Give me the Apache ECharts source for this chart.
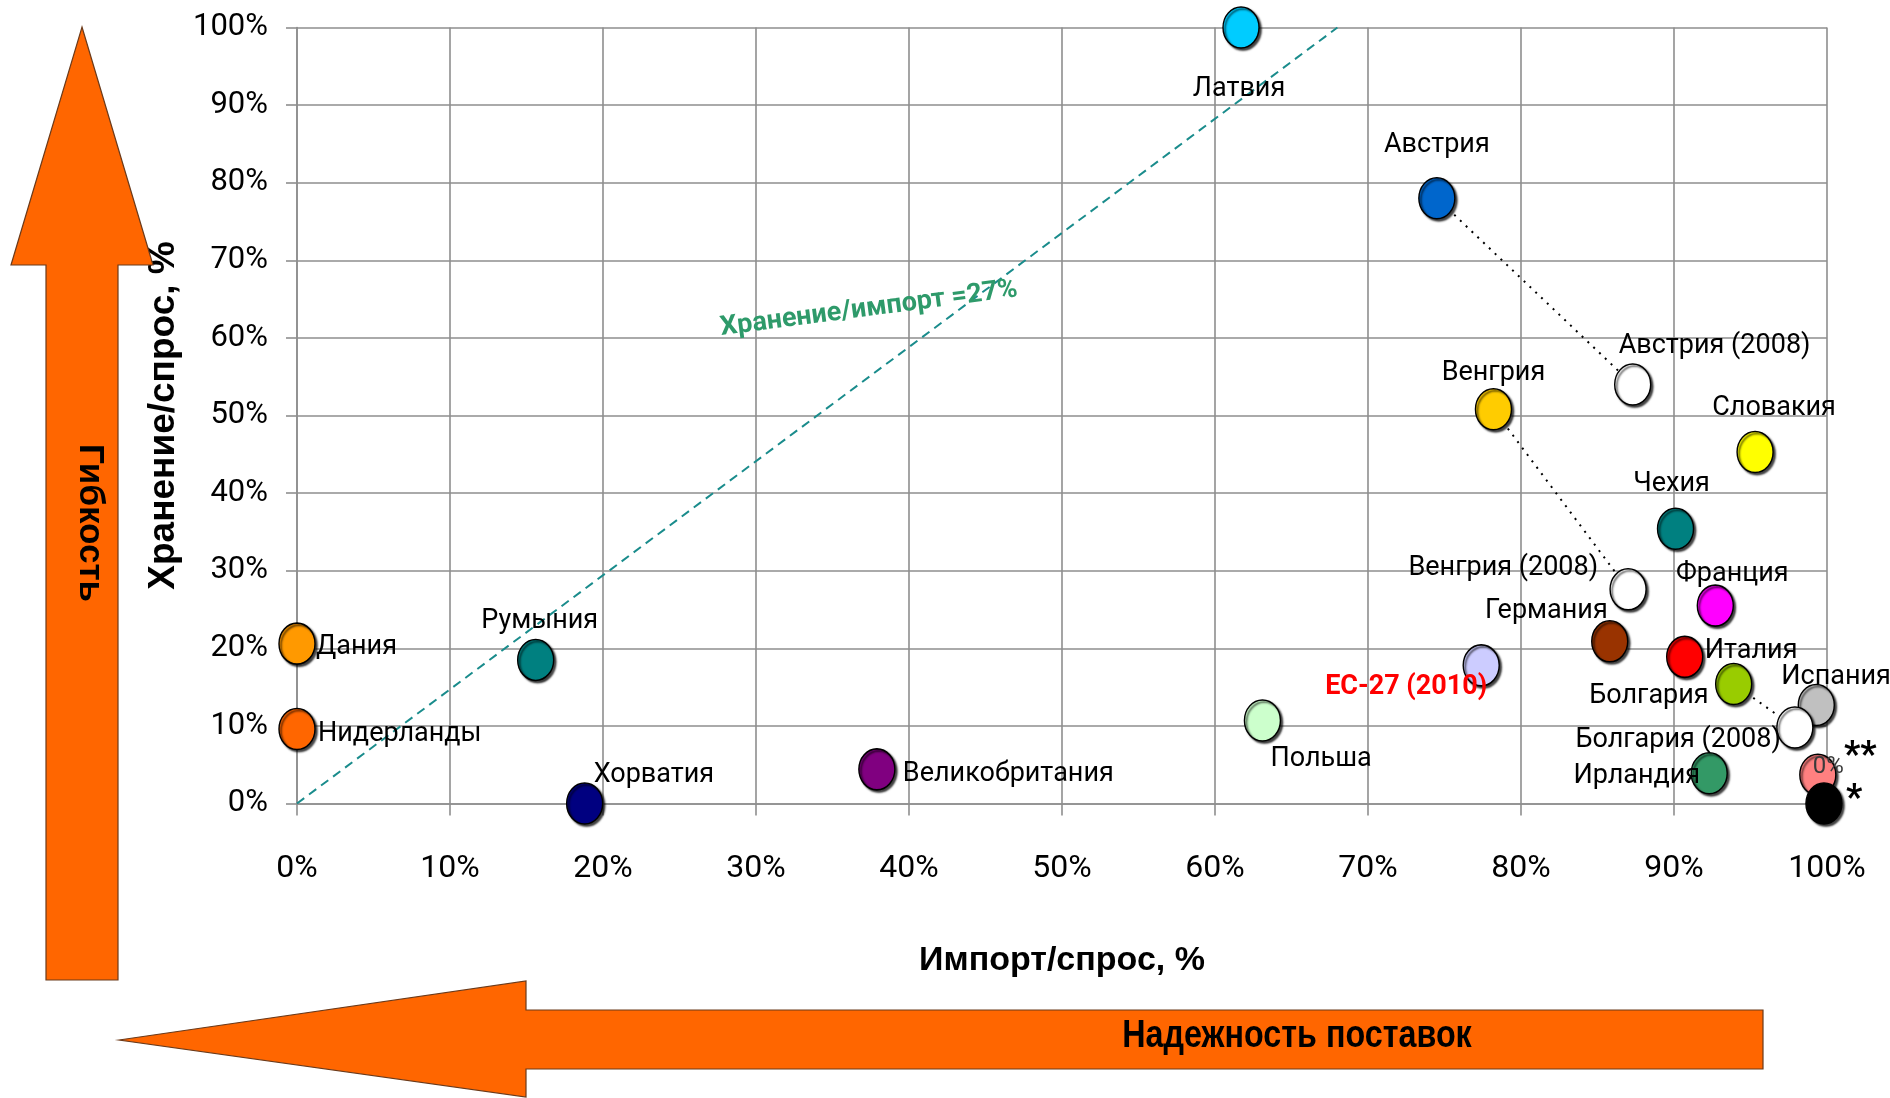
<!DOCTYPE html>
<html>
<head>
<meta charset="utf-8">
<title>Хранение/спрос vs Импорт/спрос</title>
<script src="https://cdn.jsdelivr.net/npm/echarts@6/dist/echarts.min.js"></script>
<style>
  html, body { margin: 0; padding: 0; background: #ffffff; }
  #chart { width: 1890px; height: 1098px; }
</style>
</head>
<body>
<div id="chart"></div>
<script>
  // данные: импорт/спрос (ось X) и хранение/спрос (ось Y), в %
  const countries = ['Латвия', 'Австрия', 'Австрия (2008)', 'Венгрия', 'Словакия', 'Чехия',
    'Венгрия (2008)', 'Франция', 'Германия', 'Италия', 'ЕС-27 (2010)', 'Болгария', 'Испания',
    'Болгария (2008)', 'Польша', 'Ирландия', '**', '*', 'Дания', 'Нидерланды', 'Румыния',
    'Хорватия', 'Великобритания'];
  const importShare = [61.7, 74.5, 87.3, 78.2, 95.3, 90.1, 87.0, 92.7, 85.8, 90.7, 77.4, 93.9, 99.3,
    97.9, 63.1, 92.3, 99.4, 99.8, 0, 0, 15.6, 18.8, 37.9];
  const storageShare = [100, 78.0, 54.0, 50.8, 45.3, 35.4, 27.6, 25.5, 20.9, 18.9, 17.8, 15.4, 12.7,
    9.8, 10.7, 3.9, 3.7, 0, 20.6, 9.6, 18.5, 0, 4.4];
  const xTicks = [0, 10, 20, 30, 40, 50, 60, 70, 80, 90, 100];
  const yTicks = [0, 10, 20, 30, 40, 50, 60, 70, 80, 90, 100];
  // пары 2008 -> текущий год (пунктир)
  const changePairs = [['Австрия', 'Австрия (2008)'], ['Венгрия', 'Венгрия (2008)'], ['Болгария', 'Болгария (2008)']];
  // линия хранение/импорт
  const ratioLine = [[0, 0], [68, 100]];

  const pointColors = ['#00ccff', '#0066cc', '#ffffff', '#ffcc00', '#ffff00', '#008080',
    '#ffffff', '#ff00ff', '#993300', '#ff0000', '#ccccff', '#99cc00', '#c0c0c0',
    '#ffffff', '#ccffcc', '#339966', '#ff8080', '#000000', '#ff9900', '#ff6600', '#008080',
    '#000080', '#800080'];

  // смещения подписей [dx, dy, align]
  const labelLayout = {
    'Латвия': [-2, 62, 'center'],
    'Австрия': [0, -53, 'center'],
    'Австрия (2008)': [-14, -38, 'left'],
    'Венгрия': [0, -36, 'center'],
    'Словакия': [19, -44, 'center'],
    'Чехия': [-4, -45, 'center'],
    'Венгрия (2008)': [-30, -21, 'right'],
    'Франция': [17, -31, 'center'],
    'Германия': [-2, -30, 'right'],
    'Италия': [20, -6, 'left'],
    'ЕС-27 (2010)': [6, 22, 'right'],
    'Болгария': [-25, 12, 'right'],
    'Испания': [-35, -28, 'left'],
    'Болгария (2008)': [-14, 13, 'right'],
    'Польша': [8, 39, 'left'],
    'Ирландия': [-9, 3, 'right'],
    '**': [-5, -8, 'left'],
    '*': [22, -4, 'left'],
    'Дания': [19, 4, 'left'],
    'Нидерланды': [21, 5, 'left'],
    'Румыния': [4, -39, 'center'],
    'Хорватия': [9, -28, 'left'],
    'Великобритания': [26, 5, 'left']
  };

  const gridColor = '#8e8e8e';
  const labelFont = 'Roboto';

  const idx = name => countries.indexOf(name);

  const scatterData = countries.map((name, i) => {
    const [dx, dy, align] = labelLayout[name];
    const label = {
      show: true,
      position: 'inside',
      offset: [dx, dy],
      align: align,
      verticalAlign: 'middle',
      formatter: '{b}',
      color: '#000',
      fontFamily: labelFont,
      fontSize: 27
    };
    if (name === 'ЕС-27 (2010)') {
      label.color = '#ff0000';
      label.fontWeight = 'bold';
    }
    if (name === '**') {
      label.formatter = '{z|0%}{s|**}';
      label.rich = {
        z: { fontSize: 24, color: '#3a3a3a', fontFamily: labelFont, verticalAlign: 'middle' },
        s: { fontSize: 36, fontWeight: 'bold', color: '#000', fontFamily: labelFont, verticalAlign: 'middle', padding: [0, 0, 20, 0] }
      };
    }
    if (name === '*') {
      label.fontSize = 36;
      label.fontWeight = 'bold';
    }
    return {
      name: name,
      value: [importShare[i], storageShare[i]],
      itemStyle: { color: pointColors[i] },
      label: label
    };
  });

  const pairSeries = changePairs.map(pair => ({
    type: 'line',
    silent: true,
    symbol: 'none',
    z: 2,
    data: pair.map(n => [importShare[idx(n)], storageShare[idx(n)]]),
    lineStyle: { color: '#000', width: 2, type: [2, 6] }
  }));

  const chart = echarts.init(document.getElementById('chart'));

  const option = {
    backgroundColor: '#ffffff',
    animation: false,
    grid: { left: 297, right: 63, top: 27.5, bottom: 294.5 },
    xAxis: {
      type: 'value',
      min: xTicks[0],
      max: xTicks[xTicks.length - 1],
      interval: xTicks[1] - xTicks[0],
      name: 'Импорт/спрос, %',
      nameLocation: 'middle',
      nameGap: 140,
      nameTextStyle: { fontFamily: 'Liberation Sans', fontWeight: 'bold', fontSize: 34, color: '#000' },
      axisLine: { show: true, onZero: false, lineStyle: { color: gridColor, width: 1.6 } },
      axisTick: { show: true, length: 12, lineStyle: { color: gridColor, width: 1.6 } },
      splitLine: { show: true, lineStyle: { color: gridColor, width: 1.6 } },
      axisLabel: { margin: 49, fontFamily: labelFont, fontSize: 32, color: '#000', formatter: '{value}%' }
    },
    yAxis: {
      type: 'value',
      min: yTicks[0],
      max: yTicks[yTicks.length - 1],
      interval: yTicks[1] - yTicks[0],
      name: 'Хранение/спрос, %',
      nameLocation: 'middle',
      nameGap: 107,
      nameTextStyle: { fontFamily: 'Liberation Sans', fontWeight: 'bold', fontSize: 37, color: '#000' },
      axisLine: { show: true, onZero: false, lineStyle: { color: gridColor, width: 1.6 } },
      axisTick: { show: true, length: 11, lineStyle: { color: gridColor, width: 1.6 } },
      splitLine: { show: true, lineStyle: { color: gridColor, width: 1.6 } },
      axisLabel: { margin: 29, padding: [5, 0, 0, 0], fontFamily: labelFont, fontSize: 31, color: '#000', formatter: '{value}%' }
    },
    series: [
      {
        type: 'line',
        silent: true,
        symbol: 'none',
        z: 2,
        data: ratioLine,
        lineStyle: { color: '#1a8c8c', width: 2, type: [9, 6] }
      },
      ...pairSeries,
      {
        type: 'scatter',
        z: 5,
        clip: false,
        symbol: 'circle',
        symbolSize: [36, 41],
        itemStyle: {
          opacity: 1,
          borderColor: '#000',
          borderWidth: 1.5,
          shadowColor: 'rgba(0,0,0,0.75)',
          shadowBlur: 2,
          shadowOffsetX: 2,
          shadowOffsetY: 2
        },
        emphasis: { disabled: true },
        data: scatterData
      }
    ],
    graphic: [
      {
        type: 'polygon',
        z: 1,
        shape: { points: [[82, 27], [153, 265], [118, 265], [118, 980], [46, 980], [46, 265], [11, 265]] },
        style: { fill: '#ff6600', stroke: '#6b3a1a', lineWidth: 1.2 }
      },
      {
        type: 'text',
        z: 3,
        x: 90,
        y: 523,
        rotation: -Math.PI / 2,
        style: { text: 'Гибкость', fill: '#000', font: 'bold 35px "Liberation Sans"', align: 'center', verticalAlign: 'middle' }
      },
      {
        type: 'polygon',
        z: 1,
        shape: { points: [[119, 1040], [526, 981], [526, 1010], [1763, 1010], [1763, 1069], [526, 1069], [526, 1097]] },
        style: { fill: '#ff6600', stroke: '#6b3a1a', lineWidth: 1.2 }
      },
      {
        type: 'text',
        z: 3,
        x: 1297,
        y: 1037,
        scaleX: 0.85,
        style: { text: 'Надежность поставок', fill: '#000', font: 'bold 38px "Liberation Sans"', align: 'center', verticalAlign: 'middle' }
      },
      {
        type: 'text',
        z: 3,
        x: 869,
        y: 309,
        rotation: 0.13,
        style: { text: 'Хранение/импорт =27%', fill: '#2e9a6a', font: 'bold 27px Roboto', align: 'center', verticalAlign: 'middle' }
      }
    ]
  };

  chart.setOption(option);
  window.addEventListener('resize', () => chart.resize());
</script>
</body>
</html>
